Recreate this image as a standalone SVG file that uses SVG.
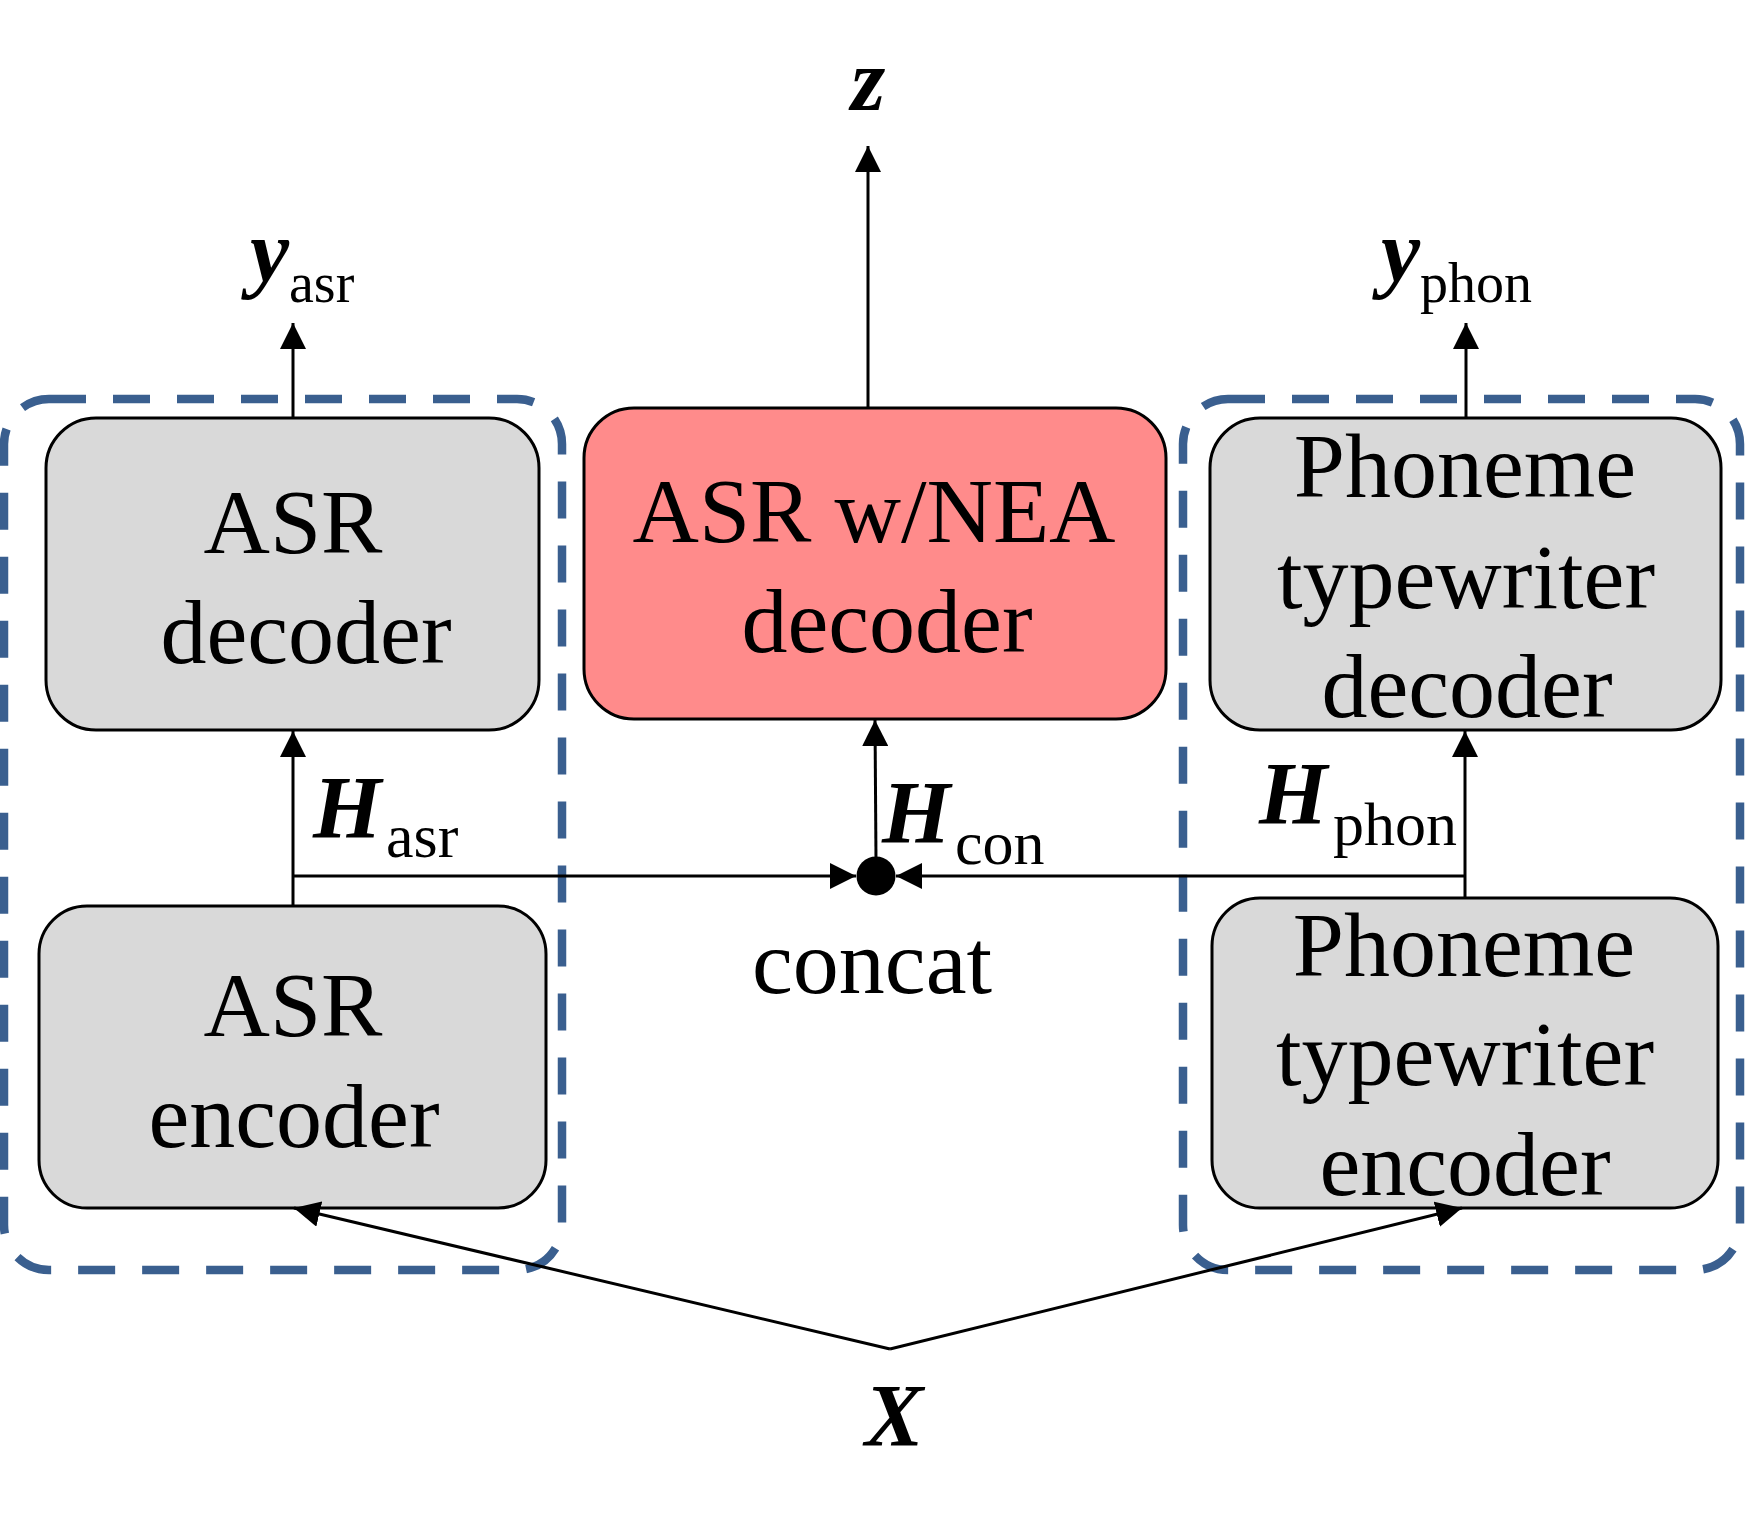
<svg xmlns="http://www.w3.org/2000/svg" width="1745" height="1514" viewBox="0 0 1745 1514">
<style>
.box{fill:#D9D9D9;stroke:#000;stroke-width:3}
.red{fill:#FF8B8B;stroke:#000;stroke-width:3}
.grp{fill:none;stroke:#3A5F8F;stroke-width:8.5;stroke-dasharray:37 27}
.lbl{font-family:"Liberation Serif","Times New Roman",serif;font-size:92px;fill:#000;text-anchor:middle}
.math{font-family:"Liberation Serif","Times New Roman",serif;font-size:88px;font-weight:bold;font-style:italic;fill:#000}
.sub{font-family:"Liberation Serif","Times New Roman",serif;font-size:62px;fill:#000}
.sub2{font-family:"Liberation Serif","Times New Roman",serif;font-size:56px;fill:#000}
.ln{fill:none;stroke:#000;stroke-width:3}
</style>
<defs>
<marker id="ah" viewBox="0 0 26 26" markerWidth="26" markerHeight="26" refX="26" refY="13" orient="auto" markerUnits="userSpaceOnUse">
<path d="M0,0 L26,13 L0,26 z" fill="#000"/>
</marker>
</defs>
<rect width="1745" height="1514" fill="#fff"/>

<g id="group-asr"><rect class="grp" x="4" y="399" width="558" height="871" rx="45"/></g>
<g id="group-phon"><rect class="grp" x="1183" y="399" width="557" height="871" rx="45"/></g>

<g id="asr-decoder">
<rect class="box" x="46" y="418" width="493" height="312" rx="50"/>
<text class="lbl" x="293" y="553">ASR</text>
<text class="lbl" x="306" y="663">decoder</text>
</g>
<g id="nea-decoder">
<rect class="red" x="584" y="408" width="582" height="311" rx="50"/>
<text class="lbl" x="874" y="542">ASR w/NEA</text>
<text class="lbl" x="887" y="652">decoder</text>
</g>
<g id="phon-decoder">
<rect class="box" x="1210" y="418" width="511" height="312" rx="50"/>
<text class="lbl" x="1465" y="497">Phoneme</text>
<text class="lbl" x="1466" y="608">typewriter</text>
<text class="lbl" x="1467" y="717">decoder</text>
</g>
<g id="asr-encoder">
<rect class="box" x="39" y="906" width="507" height="302" rx="48"/>
<text class="lbl" x="293" y="1036">ASR</text>
<text class="lbl" x="294" y="1147">encoder</text>
</g>
<g id="phon-encoder">
<rect class="box" x="1212" y="898" width="506" height="310" rx="48"/>
<text class="lbl" x="1464" y="976">Phoneme</text>
<text class="lbl" x="1465" y="1085">typewriter</text>
<text class="lbl" x="1465" y="1195">encoder</text>
</g>
<g id="concat">
<circle cx="876" cy="876" r="19.5" fill="#000"/>
<text class="lbl" x="872" y="993">concat</text>
</g>

<g id="connectors">
<line class="ln" x1="868" y1="408" x2="868" y2="146" marker-end="url(#ah)"/>
<line class="ln" x1="293" y1="418" x2="293" y2="323" marker-end="url(#ah)"/>
<line class="ln" x1="1466" y1="418" x2="1466" y2="323" marker-end="url(#ah)"/>
<line class="ln" x1="293" y1="906" x2="293" y2="731" marker-end="url(#ah)"/>
<line class="ln" x1="1465" y1="898" x2="1465" y2="731" marker-end="url(#ah)"/>
<line class="ln" x1="293" y1="876" x2="856" y2="876" marker-end="url(#ah)"/>
<line class="ln" x1="1465" y1="876" x2="896" y2="876" marker-end="url(#ah)"/>
<line class="ln" x1="876" y1="860" x2="875" y2="720" marker-end="url(#ah)"/>
<line class="ln" x1="890" y1="1349" x2="294" y2="1208" marker-end="url(#ah)"/>
<line class="ln" x1="890" y1="1349" x2="1462" y2="1208" marker-end="url(#ah)"/>
</g>

<g id="labels">
<text class="math" x="868" y="110" text-anchor="middle">z</text>
<text class="math" x="250" y="281">y</text><text class="sub2" x="289" y="302">asr</text>
<text class="math" x="1381" y="281">y</text><text class="sub2" x="1420" y="302">phon</text>
<text class="math" x="313" y="837">H</text><text class="sub" x="386" y="857">asr</text>
<text class="math" x="882" y="842">H</text><text class="sub" x="955" y="864">con</text>
<text class="math" x="1259" y="823">H</text><text class="sub" x="1333" y="845">phon</text>
<text class="math" x="894" y="1445" text-anchor="middle">X</text>
</g>
</svg>
